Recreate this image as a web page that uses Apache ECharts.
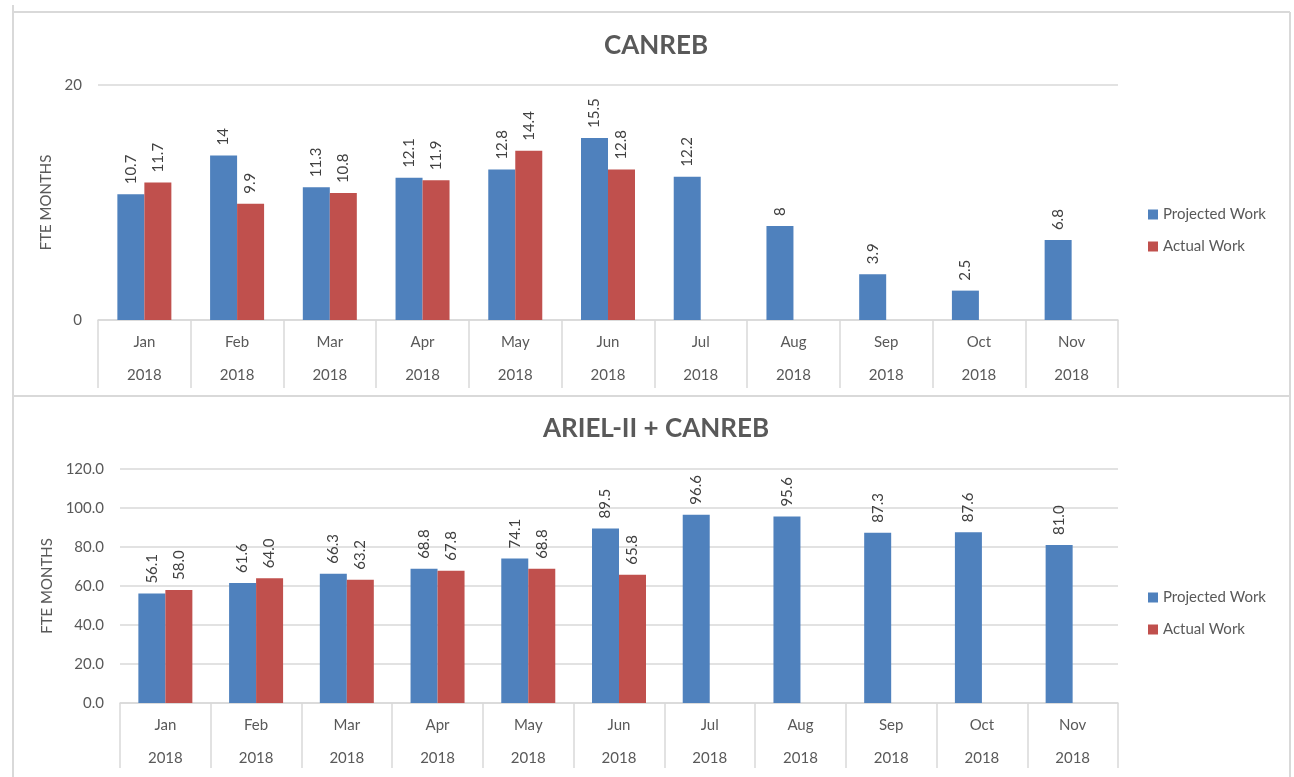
<!DOCTYPE html>
<html>
<head>
<meta charset="utf-8">
<title>CANREB FTE months</title>
<script src="https://cdn.jsdelivr.net/npm/echarts@6/dist/echarts.min.js"></script>
<style>
  html, body { margin: 0; padding: 0; background: #fff; }
  #chart { width: 1294px; height: 777px; }
</style>
</head>
<body>
<div id="chart"></div>
<script>
const months = ['Jan', 'Feb', 'Mar', 'Apr', 'May', 'Jun', 'Jul', 'Aug', 'Sep', 'Oct', 'Nov'];
const years = ['2018', '2018', '2018', '2018', '2018', '2018', '2018', '2018', '2018', '2018', '2018'];

// top chart: CANREB
const canrebProjected = [10.7, 14, 11.3, 12.1, 12.8, 15.5, 12.2, 8, 3.9, 2.5, 6.8];
const canrebActual = [11.7, 9.9, 10.8, 11.9, 14.4, 12.8, null, null, null, null, null];

// bottom chart: ARIEL-II + CANREB
const arielProjected = [56.1, 61.6, 66.3, 68.8, 74.1, 89.5, 96.6, 95.6, 87.3, 87.6, 81.0];
const arielActual = [58.0, 64.0, 63.2, 67.8, 68.8, 65.8, null, null, null, null, null];

const blue = '#4F81BD';
const red = '#C0504D';
const grey = '#595959';
const lineGrey = '#d9d9d9';
const font = 'Lato, "Open Sans", sans-serif';

const chart = echarts.init(document.getElementById('chart'));

function xAxisFor(gridIndex) {
  return {
    type: 'category',
    gridIndex: gridIndex,
    data: months,
    axisLine: { lineStyle: { color: lineGrey, width: 1.5 } },
    axisTick: { show: true, interval: 0, length: gridIndex === 0 ? 68 : 65, lineStyle: { color: lineGrey, width: 1.5 } },
    axisLabel: {
      interval: 0,
      margin: 6,
      color: grey,
      fontSize: 15,
      fontFamily: font,
      lineHeight: 33,
      formatter: (v, i) => v + '\n' + years[i]
    }
  };
}

function barLabel(decimals) {
  return {
    show: true,
    position: 'top',
    rotate: 90,
    align: 'left',
    verticalAlign: 'middle',
    distance: 10,
    color: '#404040',
    fontSize: 15,
    fontFamily: font,
    formatter: p => decimals ? p.value.toFixed(1) : String(p.value)
  };
}

function legendAt(top) {
  return {
    orient: 'vertical',
    left: 1143,
    top: top,
    itemWidth: 10,
    itemHeight: 10,
    itemGap: 17,
    icon: 'rect',
    data: ['Projected Work', 'Actual Work'],
    textStyle: { color: grey, fontSize: 15, fontFamily: font }
  };
}

const option = {
  animation: false,
  title: [
    {
      text: 'CANREB',
      left: 651, top: 28, textAlign: 'center',
      textStyle: { color: grey, fontSize: 26, fontWeight: 'bold', fontFamily: font }
    },
    {
      text: 'ARIEL-II + CANREB',
      left: 651, top: 411, textAlign: 'center',
      textStyle: { color: grey, fontSize: 26, fontWeight: 'bold', fontFamily: font }
    }
  ],
  legend: [legendAt(202), legendAt(585)],
  grid: [
    { left: 98, right: 176, top: 85, height: 235 },
    { left: 120, right: 176, top: 469, height: 234 }
  ],
  xAxis: [xAxisFor(0), xAxisFor(1)],
  yAxis: [
    {
      type: 'value',
      gridIndex: 0,
      min: 0, max: 20, interval: 20,
      name: 'FTE MONTHS',
      nameLocation: 'middle',
      nameGap: 42,
      nameTextStyle: { color: grey, fontSize: 15, fontFamily: font },
      axisLine: { show: false },
      axisTick: { show: false },
      axisLabel: { color: grey, fontSize: 15, fontFamily: font, margin: 16 },
      splitLine: { lineStyle: { color: lineGrey, width: 1.5 } }
    },
    {
      type: 'value',
      gridIndex: 1,
      min: 0, max: 120, interval: 20,
      name: 'FTE MONTHS',
      nameLocation: 'middle',
      nameGap: 64,
      nameTextStyle: { color: grey, fontSize: 15, fontFamily: font },
      axisLine: { show: false },
      axisTick: { show: false },
      axisLabel: { color: grey, fontSize: 15, fontFamily: font, margin: 16, formatter: v => v.toFixed(1) },
      splitLine: { lineStyle: { color: lineGrey, width: 1.5 } }
    }
  ],
  series: [
    {
      name: 'Projected Work', type: 'bar', xAxisIndex: 0, yAxisIndex: 0,
      data: canrebProjected, barWidth: 27, barGap: '0%',
      itemStyle: { color: blue }, label: barLabel(false)
    },
    {
      name: 'Actual Work', type: 'bar', xAxisIndex: 0, yAxisIndex: 0,
      data: canrebActual, barWidth: 27, barGap: '0%',
      itemStyle: { color: red }, label: barLabel(false)
    },
    {
      name: 'Projected Work', type: 'bar', xAxisIndex: 1, yAxisIndex: 1,
      data: arielProjected, barWidth: 27, barGap: '0%',
      itemStyle: { color: blue }, label: barLabel(true)
    },
    {
      name: 'Actual Work', type: 'bar', xAxisIndex: 1, yAxisIndex: 1,
      data: arielActual, barWidth: 27, barGap: '0%',
      itemStyle: { color: red }, label: barLabel(true)
    }
  ],
  // panel frames like the spreadsheet chart borders
  graphic: [
    { type: 'line', shape: { x1: 13, y1: 5, x2: 13, y2: 777 }, style: { stroke: lineGrey, lineWidth: 2 } },
    { type: 'line', shape: { x1: 13, y1: 12, x2: 1290, y2: 12 }, style: { stroke: lineGrey, lineWidth: 2 } },
    { type: 'line', shape: { x1: 1290, y1: 12, x2: 1290, y2: 777 }, style: { stroke: lineGrey, lineWidth: 2 } },
    { type: 'line', shape: { x1: 13, y1: 396, x2: 1290, y2: 396 }, style: { stroke: lineGrey, lineWidth: 2 } }
  ]
};

chart.setOption(option);
</script>
</body>
</html>
